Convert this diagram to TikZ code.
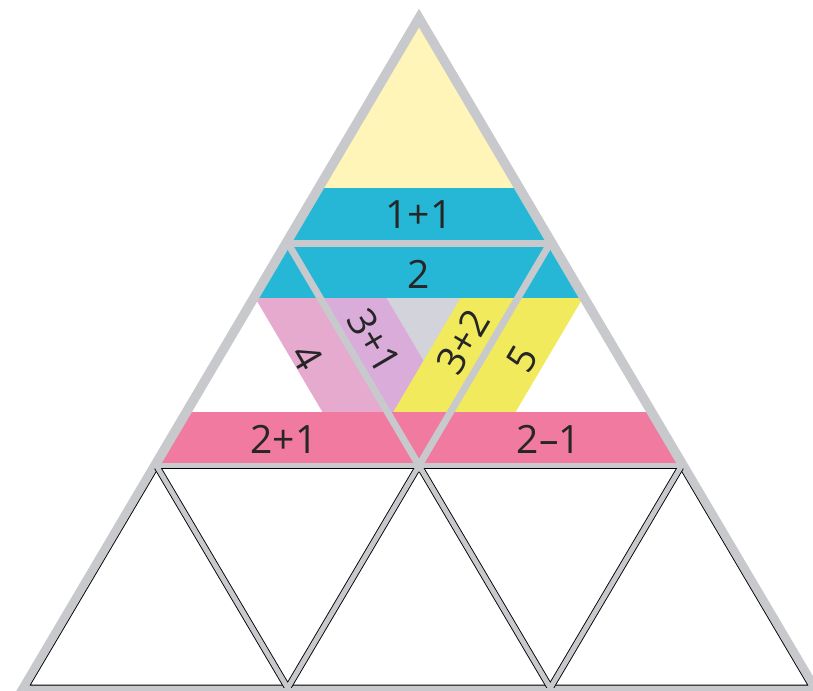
\documentclass[tikz,border=0pt]{standalone}
\usepackage{fontspec}
\setmainfont{Open Sans}
\definecolor{paleyellow}{RGB}{255,245,185}
\definecolor{cyanband}{RGB}{38,183,214}
\definecolor{roseband}{RGB}{240,122,160}
\definecolor{lilacstrip}{RGB}{229,170,206}
\definecolor{mauvestrip}{RGB}{218,172,218}
\definecolor{lemonstrip}{RGB}{240,234,92}
\definecolor{middlegray}{RGB}{210,211,219}
\definecolor{gapgray}{RGB}{200,201,205}

\begin{document}
\begin{tikzpicture}[x=1pt,y=-1pt,every node/.style={font=\fontsize{39}{46}\selectfont,text=black!85,inner sep=0pt},gap/.style={draw=gapgray,line width=7pt},tile/.style={draw=black,line width=0.9pt,double=gapgray,double distance=5pt,line join=miter}]
\useasboundingbox[fill=white](0,0)rectangle(813,690);
% lattice points of the big triangle
\coordinate(apex)at(419,20.5);
\coordinate(m1l)at(287.7,243);\coordinate(m1r)at(550.3,243);
\coordinate(b2l)at(156.3,465.5);\coordinate(b2c)at(419,465.5);\coordinate(b2r)at(681.7,465.5);
\coordinate(c0)at(25,688);\coordinate(c1)at(287.7,688);\coordinate(c2)at(550.3,688);\coordinate(c3)at(813,688);
% coloured pieces
\begin{scope}
\clip(apex)--(b2l)--(b2r)--cycle;
\fill[paleyellow](apex)--(m1l)--(m1r)--cycle;
\fill[middlegray](m1l)--(m1r)--(b2c)--cycle;
\fill[lilacstrip](222.7,243)--(287.7,243)--(419,465.5)--(354,465.5)--cycle;
\fill[lemonstrip](550.3,243)--(615.3,243)--(484,465.5)--(419,465.5)--cycle;
\begin{scope}
\clip(m1l)--(m1r)--(b2c)--cycle;
\fill[mauvestrip](287.7,243)--(354,243)--(485.3,465.5)--(419,465.5)--cycle;
\fill[lemonstrip](493,243)--(550.3,243)--(419,465.5)--(361.7,465.5)--cycle;
\end{scope}
\fill[cyanband](0,188)rectangle(813,298);
\fill[roseband](0,412)rectangle(813,465.5);
\end{scope}
% blank pieces
\draw[black,line width=0.9pt](156,468.5)--(682,468.5);
\draw[tile](b2l)--(c0)--(c3)--(b2r);
\draw[tile](b2l)--(c1)--(b2c)--(c2)--(b2r);
% gaps between the pieces
\draw[gap](m1l)--(m1r);\draw[gap](m1l)--(b2c)--(m1r);\draw[gap](apex)--(b2l);\draw[gap](apex)--(b2r);
\draw[gap,line width=5pt](b2l)--(b2r);
\fill[gapgray,even odd rule](419,8.7)--(14.5,694)--(823.5,694)--cycle(apex)--(c0)--(c3)--cycle;
% sums
\node(sumtop)at(419,215){1+1};
\node(sumtwo)at(419,274){2};
\node[rotate=-59.5](sumfour)at(307,357){4};
\node[rotate=-59.5](sumthreeone)at(374,341){3+1};
\node[rotate=59.5](sumthreetwo)at(463,342){3+2};
\node[rotate=59.5](sumfive)at(522,359){5};
\node(sumtwoone)at(284,439){2+1};
\node(sumdiff)at(549,439){2–1};
\end{tikzpicture}
\end{document}
